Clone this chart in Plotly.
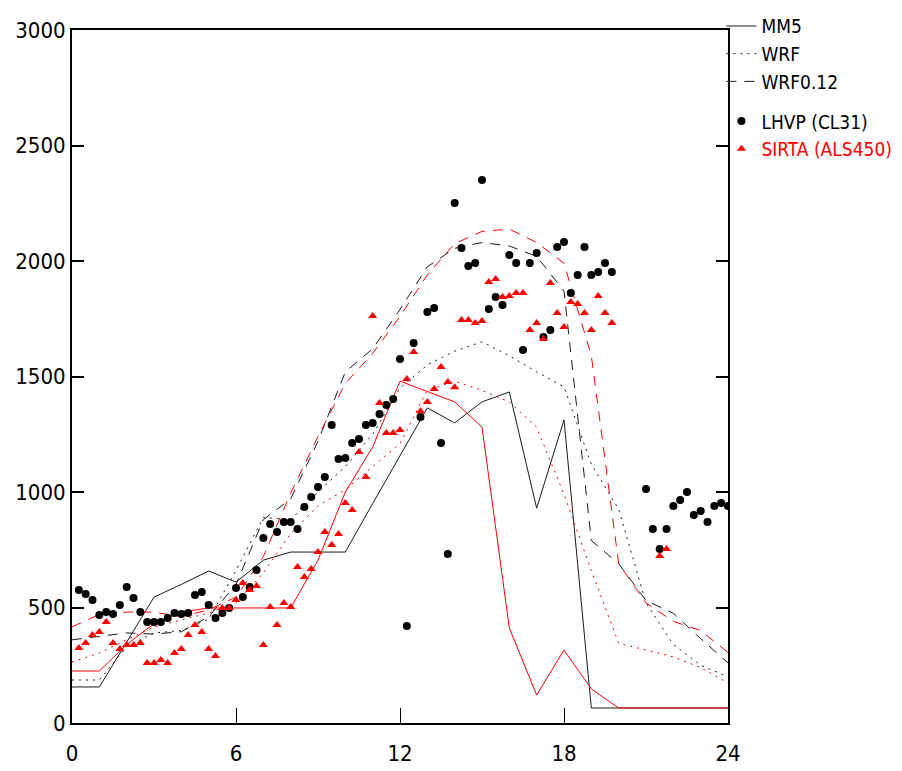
import plotly.graph_objects as go

# ---- model output (hourly) ----
hours = [0, 1, 2, 3, 4, 5, 6, 7, 8, 9, 10, 11, 12, 13, 14, 15, 16, 17, 18, 19, 20, 21, 22, 23, 24]
mm5_black = [156, 156, 350, 545, 600, 658, 610, 705, 740, 740, 740, 950, 1160, 1364, 1299, 1390, 1433, 930, 1312, 65, 65, 65, 65, 65, 65]
mm5_red = [225, 225, 340, 430, 480, 498, 498, 498, 498, 705, 1000, 1195, 1480, 1435, 1390, 1281, 411, 121, 316, 147, 65, 65, 65, 65, 65]
wrf_black = [186, 186, 330, 390, 400, 450, 660, 890, 880, 1000, 1110, 1250, 1450, 1550, 1610, 1650, 1590, 1520, 1455, 1120, 925, 520, 340, 250, 200]
wrf_red = [264, 303, 360, 416, 446, 476, 519, 650, 820, 940, 1010, 1110, 1210, 1440, 1480, 1440, 1390, 1280, 990, 660, 345, 316, 286, 240, 173]
wrf012_black = [360, 375, 390, 385, 395, 460, 600, 880, 970, 1220, 1520, 1620, 1790, 1975, 2055, 2080, 2065, 2020, 1870, 790, 690, 530, 475, 365, 260]
wrf012_red = [416, 470, 480, 480, 460, 490, 545, 720, 995, 1240, 1470, 1600, 1760, 1940, 2075, 2128, 2138, 2080, 1990, 1590, 690, 520, 440, 400, 305]

# ---- observations (15 min) ----
lhvp_t = [0.25, 0.5, 0.75, 1.0, 1.25, 1.5, 1.75, 2.0, 2.25, 2.5, 2.75, 3.0, 3.25, 3.5, 3.75, 4.0,
          4.25, 4.5, 4.75, 5.0, 5.25, 5.5, 5.75, 6.0, 6.25, 6.5, 6.75, 7.0, 7.25, 7.5, 7.75, 8.0,
          8.25, 8.5, 8.75, 9.0, 9.25, 9.5, 9.75, 10.0, 10.25, 10.5, 10.75, 11.0, 11.25, 11.5, 11.75, 12.0,
          12.25, 12.5, 12.75, 13.0, 13.25, 13.5, 13.75, 14.0, 14.25, 14.5, 14.75, 15.0, 15.25, 15.5, 15.75, 16.0,
          16.25, 16.5, 16.75, 17.0, 17.25, 17.5, 17.75, 18.0, 18.25, 18.5, 18.75, 19.0, 19.25, 19.5, 19.75,
          21.0, 21.25, 21.5, 21.75, 22.0, 22.25, 22.5, 22.75, 23.0, 23.25, 23.5, 23.75, 24.0]
lhvp_v = [576, 558, 532, 468, 481, 472, 511, 589, 541, 481, 437, 437, 437, 455, 476, 472,
          476, 554, 567, 511, 455, 476, 498, 584, 545, 589, 662, 801, 861, 827, 870, 870,
          840, 935, 978, 1022, 1065, 1290, 1143, 1147, 1212, 1229, 1290, 1299, 1338, 1377, 1403, 1576,
          420, 1645, 1325, 1779, 1797, 1212, 732, 2251, 2056, 1978, 1991, 2351, 1792, 1844, 1810, 2026,
          1991, 1615, 1991, 2035, 1671, 1701, 2061, 2082, 1861, 1939, 2061, 1939, 1952, 1991, 1952,
          1013, 840, 753, 840, 939, 965, 1000, 900, 918, 870, 939, 952, 939]

sirta_t = [0.25, 0.5, 0.75, 1.0, 1.25, 1.5, 1.75, 2.0, 2.25, 2.5, 2.75, 3.0, 3.25, 3.5, 3.75, 4.0,
           4.25, 4.5, 4.75, 5.0, 5.25, 5.5, 5.75, 6.0, 6.25, 6.5, 6.75, 7.0, 7.25, 7.5, 7.75, 8.0,
           8.25, 8.5, 8.75, 9.0, 9.25, 9.5, 9.75, 10.0, 10.25, 10.5, 10.75, 11.0, 11.25, 11.5, 11.75, 12.0,
           12.25, 12.5, 12.75, 13.0, 13.25, 13.5, 13.75, 14.0, 14.25, 14.5, 14.75, 15.0, 15.25, 15.5, 15.75, 16.0,
           16.25, 16.5, 16.75, 17.0, 17.25, 17.5, 17.75, 18.0, 18.25, 18.5, 18.75, 19.0, 19.25, 19.5, 19.75,
           21.5, 21.75]
sirta_v = [325, 346, 381, 394, 437, 346, 320, 338, 338, 346, 260, 260, 273, 260, 303, 320,
           381, 424, 394, 320, 290, 498, 498, 532, 606, 576, 593, 338, 502, 424, 519, 502,
           675, 632, 667, 740, 827, 771, 818, 952, 922, 1173, 1065, 1762, 1385, 1255, 1255, 1268,
           1489, 1606, 1350, 1390, 1446, 1541, 1476, 1454, 1745, 1745, 1732, 1740, 1909, 1922, 1844, 1848,
           1861, 1861, 1701, 1732, 1662, 1905, 1775, 1714, 1822, 1814, 1775, 1701, 1848, 1775, 1732,
           723, 753]

x_ticks = [0, 6, 12, 18, 24]
y_ticks = [0, 500, 1000, 1500, 2000, 2500, 3000]

BLACK = "#1a1a1a"
RED = "#ff0000"
DOT = "2px,5px"
DASH = "10px,8px"

fig = go.Figure()

def add_line(y, color, dash, name, show):
    fig.add_trace(go.Scatter(
        x=hours, y=y, mode="lines", name=name, showlegend=show,
        legendgroup="models",
        line=dict(color=color, width=1, dash=dash),
        hoverinfo="skip"))

add_line(mm5_black, BLACK, "solid", "MM5", True)
add_line(wrf_black, BLACK, DOT, "WRF", True)
add_line(wrf012_black, BLACK, DASH, "WRF0.12", True)
add_line(mm5_red, RED, "solid", "MM5 red", False)
add_line(wrf_red, RED, DOT, "WRF red", False)
add_line(wrf012_red, RED, DASH, "WRF0.12 red", False)

fig.add_trace(go.Scatter(
    x=lhvp_t, y=lhvp_v, mode="markers", name="LHVP (CL31)", legendgroup="obs",
    marker=dict(symbol="circle", size=8, color="black")))
fig.add_trace(go.Scatter(
    x=sirta_t, y=sirta_v, mode="markers",
    name="<span style='color:#ff0000'>SIRTA (ALS450)</span>", legendgroup="obs",
    marker=dict(symbol="triangle-up", size=8, color=RED)))

FONT = "DejaVu Sans Condensed, DejaVu Sans, sans-serif"

# page body has an 8px margin, so the figure is drawn 8px smaller
fig.update_layout(
    width=894, height=763,
    margin=dict(l=64, r=174, t=22, b=48, autoexpand=False),
    paper_bgcolor="white", plot_bgcolor="white",
    font=dict(family=FONT, size=22, color="black"),
    legend=dict(
        x=0.99, y=1.033, xanchor="left", yanchor="top",
        font=dict(family=FONT, size=19, color="black"),
        traceorder="grouped", tracegroupgap=12,
        bgcolor="rgba(0,0,0,0)", itemwidth=30,
    ),
    xaxis=dict(
        range=[0, 24], tickvals=x_ticks, ticktext=[str(v) for v in x_ticks],
        ticks="inside", ticklen=15, tickwidth=1, tickcolor="black",
        showline=True, linecolor="black", linewidth=2, mirror=True,
        showgrid=False, zeroline=False, ticklabelstandoff=10, automargin=False,
        tickfont=dict(family=FONT, size=22),
    ),
    yaxis=dict(
        range=[0, 3000], tickvals=y_ticks, ticktext=[str(v) for v in y_ticks],
        ticks="inside", ticklen=12, tickwidth=2, tickcolor="black",
        showline=True, linecolor="black", linewidth=2, mirror="ticks",
        showgrid=False, zeroline=False, automargin=False,
        tickfont=dict(family=FONT, size=22),
    ),
)

fig.write_html("out.html")
